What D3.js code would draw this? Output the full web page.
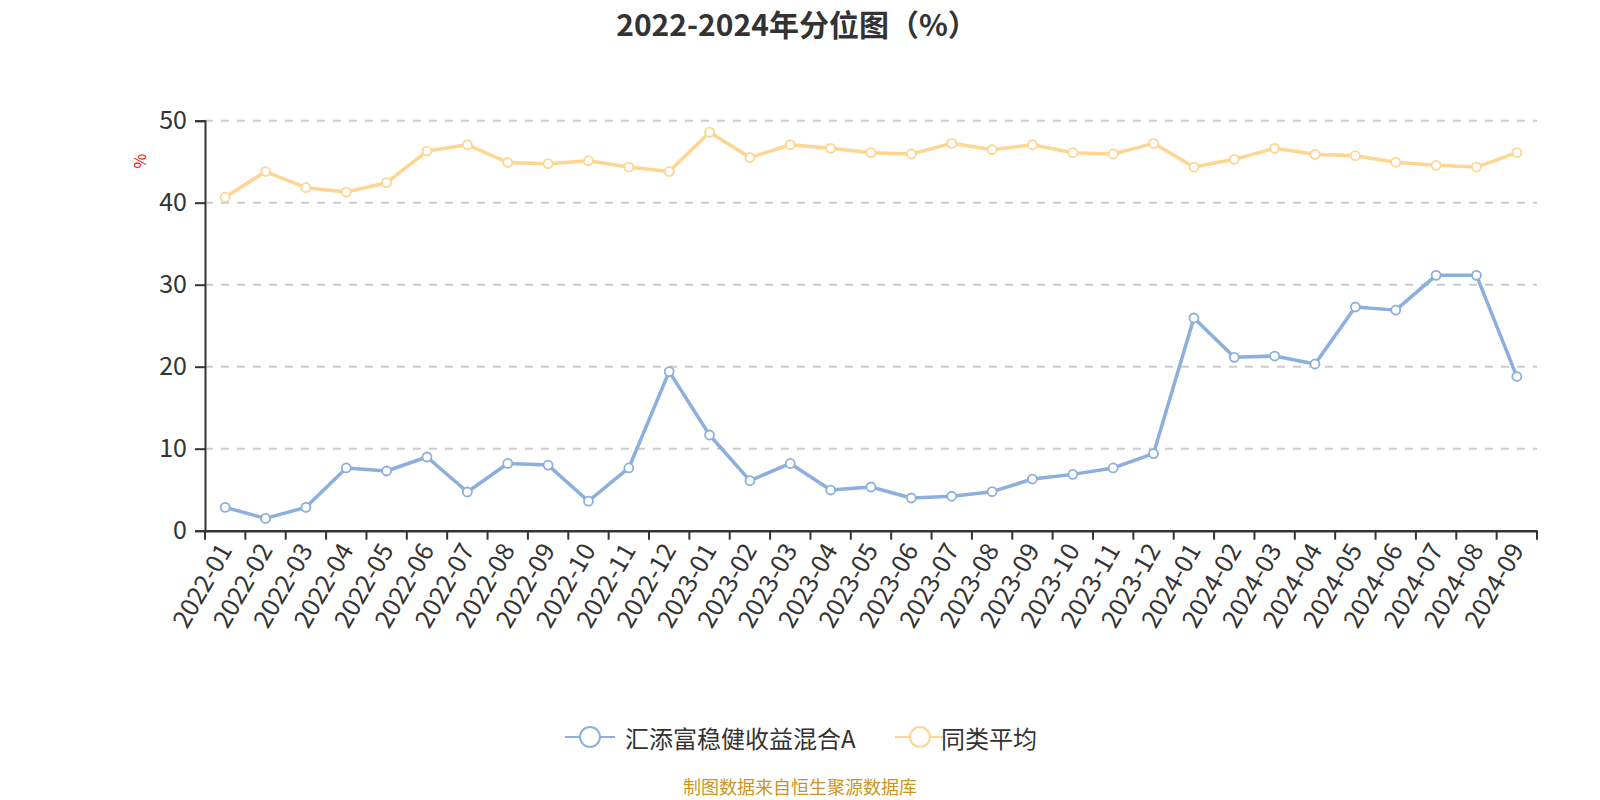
<!DOCTYPE html>
<html><head><meta charset="utf-8">
<script src="https://cdn.jsdelivr.net/npm/d3@7"></script>
<style>body{margin:0;background:#fff;} svg{display:block;font-family:"Noto Sans CJK SC","Noto Sans",sans-serif;}</style>
</head><body>
<svg id="c" width="1600" height="800"></svg>
<script>
const categories = ["2022-01","2022-02","2022-03","2022-04","2022-05","2022-06","2022-07","2022-08","2022-09","2022-10","2022-11","2022-12",
"2023-01","2023-02","2023-03","2023-04","2023-05","2023-06","2023-07","2023-08","2023-09","2023-10","2023-11","2023-12",
"2024-01","2024-02","2024-03","2024-04","2024-05","2024-06","2024-07","2024-08","2024-09"];
const fundValues = [2.85,1.5,2.85,7.65,7.28,8.99,4.72,8.2,8.0,3.6,7.65,19.4,
11.67,6.1,8.2,4.96,5.33,3.99,4.2,4.76,6.3,6.87,7.65,9.4,
25.94,21.14,21.3,20.33,27.28,26.9,31.14,31.14,18.8];
const avgValues = [40.67,43.8,41.83,41.3,42.44,46.3,47.07,44.9,44.76,45.12,44.35,43.8,
48.6,45.5,47.07,46.63,46.1,45.94,47.24,46.46,47.07,46.1,45.94,47.24,
44.35,45.29,46.63,45.9,45.73,44.93,44.56,44.35,46.1];
const yTicks = [0,10,20,30,40,50];
const seriesNames = ["汇添富稳健收益混合A","同类平均"];
const colors = ["#8cafdd","#ffd592"];
const titleText = "2022-2024年分位图（%）";
const footText = "制图数据来自恒生聚源数据库";

const svg = d3.select("#c");
const L = 205, R = 1537, T = 120.7, B = 530.7;
const x = d3.scaleBand().domain(categories).range([L, R]);
const y = d3.scaleLinear().domain([0, 50]).range([B, T]);

// title
svg.append("text").attr("x", 797).attr("y", 36).attr("text-anchor","middle")
  .attr("font-size", 30).attr("font-weight","bold").attr("fill","#333").text(titleText);

// grid
svg.append("g").selectAll("line").data(yTicks.filter(d=>d>0)).join("line")
  .attr("x1", L).attr("x2", R).attr("y1", d=>y(d)).attr("y2", d=>y(d))
  .attr("stroke","#ccc").attr("stroke-width",2).attr("stroke-dasharray","8,8");

// y axis
const ya = svg.append("g").attr("transform",`translate(${L},0)`)
  .call(d3.axisLeft(y).tickValues(yTicks).tickSize(10).tickPadding(8));
ya.select(".domain").attr("stroke","#333").attr("stroke-width",2);
ya.selectAll(".tick line").attr("stroke","#333").attr("stroke-width",2);
ya.selectAll(".tick text").attr("font-size",25).attr("fill","#333").attr("font-family",'"Noto Sans CJK SC",sans-serif');

// x axis
const xa = svg.append("g").attr("transform",`translate(0,${B})`)
  .call(d3.axisBottom(x).tickSize(0).tickFormat(""));
xa.select(".domain").attr("stroke","#333").attr("stroke-width",2.5);
const bounds = categories.map(c=>x(c)).concat([R]);
svg.append("g").selectAll("line").data(bounds).join("line")
  .attr("x1",d=>d).attr("x2",d=>d).attr("y1",B).attr("y2",B+9)
  .attr("stroke","#333").attr("stroke-width",2);
svg.append("g").selectAll("text").data(categories).join("text")
  .attr("transform", d=>`translate(${x(d)+x.bandwidth()/2+2},${B+16}) rotate(-60)`)
  .attr("text-anchor","end").attr("dominant-baseline","middle")
  .attr("font-size",25).attr("fill","#333").text(d=>d);

// y axis name
svg.append("text").attr("transform","translate(142,161) rotate(-90)")
  .attr("text-anchor","middle").attr("dominant-baseline","middle")
  .attr("font-size",16).attr("fill","red").text("%");

// series
const cx = d => x(d) + x.bandwidth()/2;
[fundValues, avgValues].forEach((vals, i) => {
  const pts = categories.map((c,k)=>[cx(c), y(vals[k])]);
  svg.append("path").attr("d", d3.line()(pts)).attr("fill","none")
    .attr("stroke", colors[i]).attr("stroke-width",3.5).attr("stroke-linejoin","round");
  svg.append("g").selectAll("circle").data(pts).join("circle")
    .attr("cx",d=>d[0]).attr("cy",d=>d[1]).attr("r",4.5)
    .attr("fill","#fff").attr("stroke",colors[i]).attr("stroke-width",1.8);
});

// legend
const leg = [{x:565, tx:625},{x:895, tx:941}];
seriesNames.forEach((n,i)=>{
  const g = svg.append("g");
  const ly = 737;
  g.append("line").attr("x1",leg[i].x).attr("x2",leg[i].x+50).attr("y1",ly).attr("y2",ly)
    .attr("stroke",colors[i]).attr("stroke-width",2);
  g.append("circle").attr("cx",leg[i].x+25).attr("cy",ly).attr("r",10)
    .attr("fill","#fff").attr("stroke",colors[i]).attr("stroke-width",2);
  g.append("text").attr("x",leg[i].tx).attr("y",ly).attr("dominant-baseline","central")
    .attr("font-size",24).attr("fill","#333").text(n);
});

// footer
svg.append("text").attr("x",800).attr("y",786).attr("text-anchor","middle").attr("dominant-baseline","central")
  .attr("font-size",18).attr("fill","#c9961f").text(footText);
</script>
</body></html>
